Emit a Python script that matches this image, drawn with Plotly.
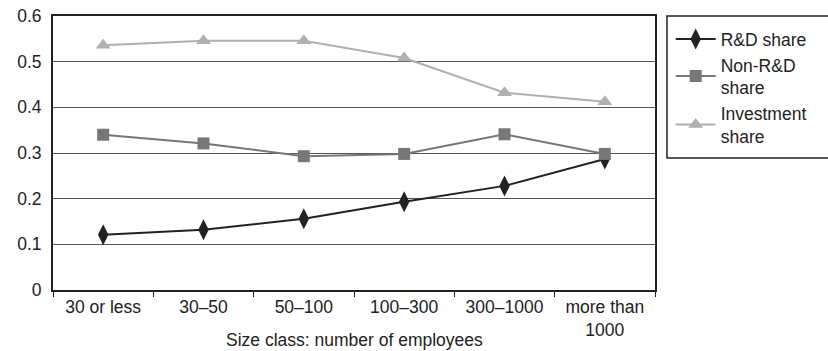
import plotly.graph_objects as go

# Size classes (number of employees)
size_classes = ["30 or less", "30–50", "50–100", "100–300", "300–1000", "more than<br>1000"]

# Shares by size class
rd_share = [0.121, 0.132, 0.156, 0.193, 0.228, 0.287]
non_rd_share = [0.340, 0.321, 0.293, 0.298, 0.341, 0.298]
investment_share = [0.536, 0.546, 0.546, 0.508, 0.432, 0.412]

y_ticks = [0, 0.1, 0.2, 0.3, 0.4, 0.5, 0.6]

x_title = "Size class: number of employees"

FONT = "Liberation Sans, Arial, sans-serif"
INK = "#222222"

fig = go.Figure()

fig.add_trace(go.Scatter(
    x=size_classes, y=rd_share, name="R&D share", mode="lines+markers",
    line=dict(color=INK, width=2),
    marker=dict(symbol="diamond-tall", size=15, color=INK),
))
fig.add_trace(go.Scatter(
    x=size_classes, y=non_rd_share, name="Non-R&D<br>share", mode="lines+markers",
    line=dict(color="#777777", width=2),
    marker=dict(symbol="square", size=12, color="#777777"),
))
fig.add_trace(go.Scatter(
    x=size_classes, y=investment_share, name="Investment<br>share", mode="lines+markers",
    line=dict(color="#b0b0b0", width=2),
    marker=dict(symbol="triangle-up", size=13, color="#b0b0b0"),
))

# Legend frame drawn as a shape so it can span to the page edge
fig.add_shape(
    type="rect", xref="paper", yref="paper",
    x0=1.0199, x1=1.30, y0=0.4818, y1=1.0,
    line=dict(color=INK, width=1.5), fillcolor="rgba(0,0,0,0)",
)

# Axis title as an annotation below the category labels
fig.add_annotation(
    text=x_title, xref="paper", yref="paper",
    x=0.5, y=-0.1825, xanchor="center", yanchor="middle",
    showarrow=False, font=dict(size=17.5, color=INK),
)

fig.update_layout(
    width=828, height=351,
    margin=dict(l=53, r=173, t=16, b=61, autoexpand=False),
    paper_bgcolor="white", plot_bgcolor="white",
    font=dict(family=FONT, size=17.5, color=INK),
    showlegend=True,
    legend=dict(
        xref="container", yref="container",
        x=0.810, xanchor="left", y=0.94, yanchor="top",
        borderwidth=0, bgcolor="rgba(0,0,0,0)",
        font=dict(size=17.5, color=INK),
        tracegroupgap=2, itemwidth=40,
    ),
    xaxis=dict(
        type="category", automargin=False,
        range=[-0.5, len(size_classes) - 0.5],
        showline=True, linecolor=INK, linewidth=2, mirror=True,
        ticks="outside", tickson="boundaries", ticklen=5, tickcolor=INK,
        showgrid=False,
        tickfont=dict(size=17.5),
    ),
    yaxis=dict(
        range=[0, 0.6], tickvals=y_ticks, automargin=False,
        showline=True, linecolor=INK, linewidth=2, mirror=True,
        showgrid=True, gridcolor="#555555", gridwidth=1,
        ticks="", tickfont=dict(size=17.5), ticklabelstandoff=6,
        zeroline=False,
    ),
)

fig.write_html("out.html")
